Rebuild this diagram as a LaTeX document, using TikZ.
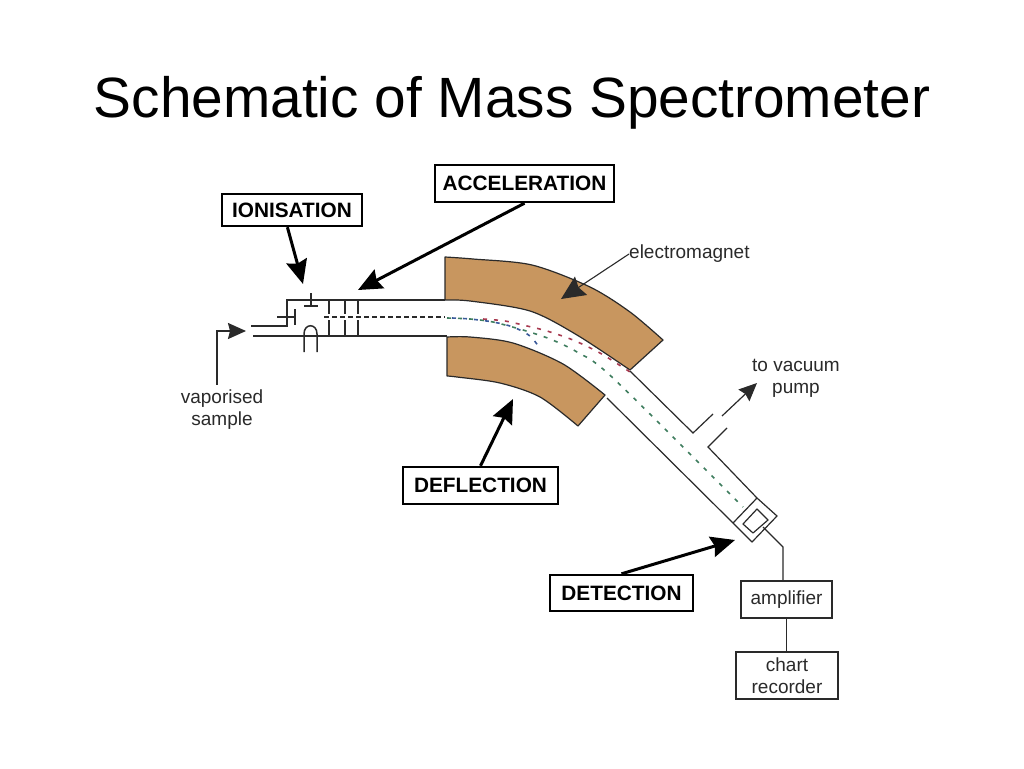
\documentclass[tikz,border=0pt]{standalone}
\usepackage{fontspec}
\setmainfont{Liberation Sans}
\usetikzlibrary{arrows.meta}
\definecolor{magnetc}{HTML}{C8965F}
\definecolor{linec}{HTML}{2A2A2A}
\definecolor{beamg}{HTML}{3E7D5E}
\definecolor{beamr}{HTML}{A83A50}
\definecolor{beamb}{HTML}{3A5A9A}
\tikzset{
  tagbox/.style={draw=black,line width=2.4pt,fill=white,inner sep=0pt,align=center,font=\fontsize{20.8}{20.8}\selectfont\bfseries},
  infobox/.style={draw=linec,line width=1.2pt,fill=white,inner sep=0pt,align=center,font=\fontsize{19}{22}\selectfont,text=linec},
  plainlabel/.style={inner sep=0pt,align=center,font=\fontsize{19}{22}\selectfont,text=linec},
  bigarrow/.style={line width=3pt,-{Stealth[inset=3pt,length=24pt,width=21pt]}},
  thinarrow/.style={line width=1.2pt,linec,-{Stealth[inset=2pt,length=18pt,width=16pt]}},
  emarrow/.style={line width=1.1pt,linec,-{Stealth[inset=3pt,length=24pt,width=22pt]}},
  thin line/.style={line width=1.2pt,draw=linec},
  wall/.style={line width=1.5pt,draw=linec},
  magnet/.style={fill=magnetc,draw=linec,line width=1.2pt,line join=round},
  beam/.style={line width=1.6pt,dash pattern=on 4pt off 7pt}
}
\begin{document}
\begin{tikzpicture}[x=1pt,y=-1pt]
\useasboundingbox (0,0) rectangle (1024,768);
\fill[white] (0,0) rectangle (1024,768);

\node[inner sep=0pt,anchor=base,font=\fontsize{56.8}{60}\selectfont] (title) at (512,117) {Schematic of Mass Spectrometer};

% magnets
\draw[magnet] plot[smooth] coordinates {(445,257) (473,259) (532,265) (590,287) (630,312) (663,340)}
  -- (630,370)
  -- plot[smooth] coordinates {(630,370) (577,335) (530,311) (470,301) (445,300)} -- cycle;
\draw[magnet] plot[smooth] coordinates {(447,337) (470,337) (513,343) (563,364) (605,395)}
  -- (578,426)
  -- plot[smooth] coordinates {(578,426) (540,397) (500,383) (457,377) (447,376)} -- cycle;

% source and tube
\draw[wall] (251,326) -- (287,326) -- (287,300) -- (445,300);
\draw[wall] (253,336) -- (447,336);
\foreach \x in {329,345,358} {
  \draw[wall] (\x,300) -- (\x,314);
  \draw[wall] (\x,320) -- (\x,336);
}
\draw[wall] (295,309) -- (295,325);
\draw[wall] (277,317) -- (295,317);
\draw[wall] (311,293) -- (311,306);
\draw[wall] (304,306) -- (318,306);
\draw[wall] (304,352) -- (304,334) .. controls (304,323) and (317,323) .. (317,334) -- (317,352);

% beams
\draw[line width=1.3pt,dash pattern=on 5pt off 3pt,linec] (324,317) -- (445,317);
\draw[beam,beamg] plot[smooth] coordinates {(447,318) (470,319) (493,322) (523,330) (550,339) (577,352) (613,378) (743,507)};
\draw[beam,beamr] plot[smooth] coordinates {(483,319) (505,321) (527,326) (547,331) (573,340) (600,353) (630,372)};
\draw[beam,beamb] plot[smooth] coordinates {(452,318) (470,319) (493,322) (513,327) (530,336) (541,350)};

% lower tube
\draw[thin line] (630,371) -- (693,433) -- (713,414);
\draw[thin line] (727,428) -- (708,447) -- (757,498);
\draw[thin line] (607,398) -- (733,523);
% detector
\draw[thin line,line join=round] (757,498) -- (777,516) -- (752,542) -- (733,523) -- cycle;
\draw[thin line,line join=round] (757,509) -- (768,520) -- (753,533) -- (743,524) -- cycle;

% boxes
\node[infobox,minimum width=91pt,minimum height=37pt] (amp) at (786.5,599.5) {amplifier};
\node[infobox,minimum width=102pt,minimum height=47pt] (chart) at (787,675.5) {chart\\recorder};
\coordinate (wirestart) at (763,527);
\coordinate (wirebend) at (783,547);
\draw[thin line] (wirestart) -- (wirebend) -- (wirebend |- amp.north);
\draw[thin line] (amp.south) -- (amp.south |- chart.north);

% labels
\node[tagbox,minimum width=179pt,minimum height=37pt] (acc) at (524.5,183.5) {ACCELERATION};
\node[tagbox,minimum width=140pt,minimum height=32pt] (ioni) at (292,210) {IONISATION};
\node[tagbox,minimum width=155pt,minimum height=37pt] (defl) at (480.5,485.5) {DEFLECTION};
\node[tagbox,minimum width=143pt,minimum height=36pt] (dete) at (621.5,593) {DETECTION};
\node[plainlabel,anchor=west] (em) at (629,254) {electromagnet};
\node[plainlabel] (vac) at (796,378) {to vacuum\\pump};
\node[plainlabel] (vap) at (222,410) {vaporised\\sample};

% arrows
\coordinate (ioniend) at (303,284);
\coordinate (accend) at (358,290);
\coordinate (deflend) at (513,399);
\coordinate (deteend) at (735,540);
\coordinate (emend) at (561,299);
\coordinate (vacstart) at (722,416);
\coordinate (vacend) at (757,383);
\coordinate (vapbend) at (217,331);
\coordinate (vapend) at (246,331);
\draw[bigarrow] (ioni.255) -- (ioniend);
\draw[bigarrow] (acc.south) -- (accend);
\draw[bigarrow] (defl.north) -- (deflend);
\draw[bigarrow] (dete.north) -- (deteend);
\draw[emarrow] (em.west) -- (emend);
\draw[thinarrow] (vacstart) -- (vacend);
\draw[thinarrow,line width=1.6pt] ([yshift=5pt]vap.north -| vapbend) -- (vapbend) -- (vapend);
\end{tikzpicture}
\end{document}
